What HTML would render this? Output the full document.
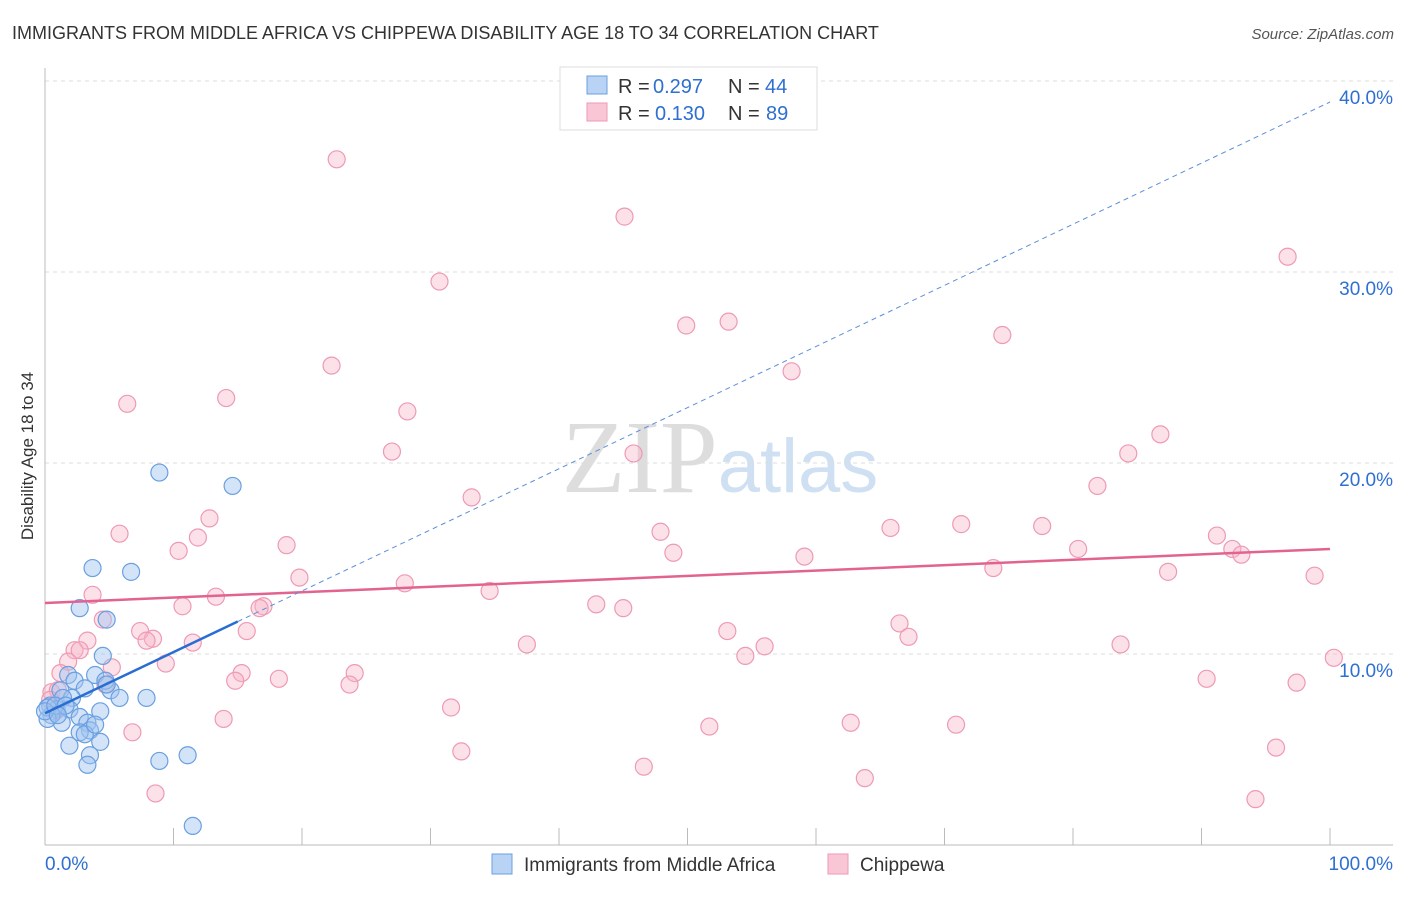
<!DOCTYPE html>
<html><head><meta charset="utf-8"><style>
body{margin:0;background:#fff;font-family:"Liberation Sans",sans-serif;}
svg text{font-family:"Liberation Sans",sans-serif;}
</style></head><body>
<svg id="chart" width="1406" height="892" viewBox="0 0 1406 892" xmlns="http://www.w3.org/2000/svg">
<text x="12" y="39" font-size="18" fill="#333">IMMIGRANTS FROM MIDDLE AFRICA VS CHIPPEWA DISABILITY AGE 18 TO 34 CORRELATION CHART</text>
<text x="1394" y="39" font-size="15" fill="#555" text-anchor="end" font-style="italic">Source: ZipAtlas.com</text>
<text x="720" y="492" font-size="104" text-anchor="middle"><tspan fill="#ddd" font-family="Liberation Serif">ZIP</tspan><tspan fill="#cfe0f3" font-size="76">atlas</tspan></text>
<g id="grid"></g>
<g id="axes"></g>
<g id="pts"></g>
<g id="trends"></g>
<text transform="translate(33,456) rotate(-90)" font-size="17" fill="#333" text-anchor="middle">Disability Age 18 to 34</text>
<g>
<rect x="560" y="67" width="257" height="63" fill="#fff" stroke="#ddd"/>
<rect x="587" y="76" width="20" height="18" fill="#b9d3f5" stroke="#6a9fe0"/>
<rect x="587" y="103" width="20" height="18" fill="#f9c6d5" stroke="#ee9ab5"/>
<text x="618" y="93" font-size="20" fill="#333">R =</text>
<text x="653" y="93" font-size="20" fill="#2e6fd1">0.297</text>
<text x="728" y="93" font-size="20" fill="#333">N =</text>
<text x="765" y="93" font-size="20" fill="#2e6fd1">44</text>
<text x="618" y="120" font-size="20" fill="#333">R =</text>
<text x="655" y="120" font-size="20" fill="#2e6fd1">0.130</text>
<text x="728" y="120" font-size="20" fill="#333">N =</text>
<text x="766" y="120" font-size="20" fill="#2e6fd1">89</text>
</g>
<g>
<rect x="492" y="854" width="20" height="20" fill="#b9d3f5" stroke="#6a9fe0"/>
<text x="524" y="871" font-size="19" fill="#333">Immigrants from Middle Africa</text>
<rect x="828" y="854" width="20" height="20" fill="#f9c6d5" stroke="#ee9ab5"/>
<text x="860" y="871" font-size="19" fill="#333">Chippewa</text>
</g>
</svg>
<script>
const blueX=[3.7,6.7,2.7,4.8,4.5,1.8,3.9,2.3,1.2,3.1,2.1,5.1,5.8,7.9,1.4,0.4,0.9,1.9,2.7,4.3,3.3,1.3,0.5,0.2,3.5,2.7,4.3,1.9,3.5,3.3,8.9,11.1,11.5,8.9,14.6,0.2,0,0.8,1.6,4.7,4.8,3.1,3.9,1.0];
const blueY=[14.5,14.3,12.4,11.8,9.9,8.9,8.9,8.6,8.1,8.2,7.7,8.1,7.7,7.7,7.7,7.3,7.1,7.1,6.7,7.0,6.4,6.4,6.8,6.6,6.0,5.9,5.4,5.2,4.7,4.2,4.4,4.7,1.0,19.5,18.8,7.2,7.0,7.3,7.3,8.6,8.4,5.8,6.3,6.8];
const pinkX=[22.7,45.1,96.7,30.7,49.9,53.2,74.5,22.3,58.1,6.4,14.1,28.2,27.0,45.8,86.8,84.3,33.2,81.9,12.8,5.8,47.9,65.8,71.3,77.6,91.2,18.8,11.9,10.4,48.9,59.1,80.4,92.4,93.1,19.8,73.8,87.4,98.8,28.0,34.6,3.7,13.3,10.7,17.0,16.7,42.9,45.0,4.5,66.5,7.4,8.4,7.9,3.3,15.7,53.1,67.2,11.5,83.7,37.5,2.3,2.7,1.8,56.0,54.5,9.4,5.2,100.3,1.2,15.3,18.2,24.1,14.8,23.7,90.4,97.4,4.7,0.5,1.0,31.6,13.9,62.7,70.9,51.7,6.8,32.4,95.8,46.6,63.8,8.6,94.2,0.4,0.8];
const pinkY=[35.9,32.9,30.8,29.5,27.2,27.4,26.7,25.1,24.8,23.1,23.4,22.7,20.6,20.5,21.5,20.5,18.2,18.8,17.1,16.3,16.4,16.6,16.8,16.7,16.2,15.7,16.1,15.4,15.3,15.1,15.5,15.5,15.2,14.0,14.5,14.3,14.1,13.7,13.3,13.1,13.0,12.5,12.5,12.4,12.6,12.4,11.8,11.6,11.2,10.8,10.7,10.7,11.2,11.2,10.9,10.6,10.5,10.5,10.2,10.2,9.6,10.4,9.9,9.5,9.3,9.8,9.0,9.0,8.7,9.0,8.6,8.4,8.7,8.5,8.4,8.0,8.1,7.2,6.6,6.4,6.3,6.2,5.9,4.9,5.1,4.1,3.5,2.7,2.4,7.6,7.0];
const yTicks=[10,20,30,40];
const yTickLabels=["10.0%","20.0%","30.0%","40.0%"];
const xTicks=[0,10,20,30,40,50,60,70,80,90,100];
const blueTrend=[6.9,0.32];
const pinkTrend=[12.67,0.0283];
const NS="http://www.w3.org/2000/svg";
const xs=v=>45+v*12.85, ys=v=>845-v*19.1;
function mk(tag,attrs,parent){const e=document.createElementNS(NS,tag);for(const k in attrs)e.setAttribute(k,attrs[k]);document.getElementById(parent).appendChild(e);return e;}
yTicks.forEach((t,i)=>{
 const g=mk('line',{x1:45,x2:1393,y1:ys(t),y2:ys(t),stroke:'#ddd','stroke-dasharray':'4,4'},'grid');
 
 
 const l=mk('text',{x:1393,y:ys(t)+23,'font-size':19,fill:'#2e6fd1','text-anchor':'end'},'grid');
 l.textContent=yTickLabels[i];
 
 
});
const ya=mk('line',{x1:45,x2:45,y1:68,y2:845,stroke:'#bbb'},'axes');


const xa=mk('line',{x1:45,x2:1393,y1:845,y2:845,stroke:'#bbb'},'axes');


xTicks.forEach(t=>{
 const k=mk('line',{x1:xs(t),x2:xs(t),y1:828,y2:845,stroke:'#bbb'},'axes');
 
 
});
const x0=mk('text',{x:45,y:870,'font-size':19,fill:'#2e6fd1'},'axes');x0.textContent='0.0%';


const x1=mk('text',{x:1393,y:870,'font-size':19,fill:'#2e6fd1','text-anchor':'end'},'axes');x1.textContent='100.0%';


pinkX.forEach((x,i)=>{
 const c=mk('circle',{cx:xs(x),cy:ys(pinkY[i]),r:8.5,fill:'rgba(248,180,200,0.4)',stroke:'#ee9ab5','stroke-width':1.2},'pts');
 
 
});
blueX.forEach((x,i)=>{
 const c=mk('circle',{cx:xs(x),cy:ys(blueY[i]),r:8.5,fill:'rgba(160,195,240,0.45)',stroke:'#6a9fe0','stroke-width':1.2},'pts');
 
 
});
const pt=mk('line',{x1:xs(0),y1:ys(pinkTrend[0]),x2:xs(100),y2:ys(pinkTrend[0]+pinkTrend[1]*100),stroke:'#e2638f','stroke-width':2.5},'trends');


const bd=mk('line',{x1:xs(15),y1:ys(blueTrend[0]+blueTrend[1]*15),x2:xs(100),y2:ys(blueTrend[0]+blueTrend[1]*100),stroke:'#5b8fd8','stroke-width':1,'stroke-dasharray':'5,4'},'trends');


const bt=mk('line',{x1:xs(0),y1:ys(blueTrend[0]),x2:xs(15),y2:ys(blueTrend[0]+blueTrend[1]*15),stroke:'#2a6dd2','stroke-width':2.5},'trends');


</script>
</body></html>
